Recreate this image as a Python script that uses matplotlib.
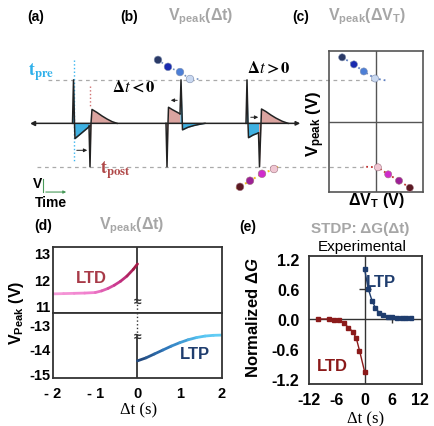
import numpy as np
import matplotlib
matplotlib.use("Agg")
from matplotlib import pyplot as plt
from matplotlib.collections import LineCollection
from matplotlib.colors import LinearSegmentedColormap

plt.rcParams['font.family'] = ['Liberation Sans', 'DejaVu Sans']
plt.rcParams['mathtext.fontset'] = 'custom'
plt.rcParams['mathtext.rm'] = 'Liberation Sans:bold'
plt.rcParams['mathtext.it'] = 'Liberation Sans:bold:italic'
plt.rcParams['mathtext.bf'] = 'Liberation Sans:bold'

# ---- schematic waveforms (a)/(b): time (arb.), voltage (pre peak = 1, post trough = -1)
pre1_t = [72.5, 73.5, 74.5, 75.0, 90.0]
pre1_v = [0.0, 1.0, 0.0, -0.35, -0.06]
post1_t = [89.0, 90.0, 91.0, 92.0, 97.0, 102.0, 107.0, 112.0, 117.0]
post1_v = [-0.06, -1.0, 0.0, 0.32, 0.25, 0.17, 0.10, 0.04, 0.0]

post2_t = [166.0, 167.0, 168.0, 168.5, 172.0, 176.0, 180.0]
post2_v = [0.0, -1.0, 0.0, 0.37, 0.32, 0.27, 0.22]
pre2_t = [180.0, 181.0, 182.5, 188.0, 194.0, 200.0, 205.0]
pre2_v = [0.22, 1.0, -0.15, -0.09, -0.05, -0.02, 0.0]

pre3_t = [246.0, 247.0, 248.0, 248.5, 253.0, 258.5]
pre3_v = [0.0, 1.0, 0.0, -0.33, -0.27, -0.22]
post3_t = [258.5, 259.5, 261.0, 261.5, 266.0, 271.0, 276.0, 282.0, 288.0]
post3_v = [-0.22, -1.0, 0.0, 0.33, 0.27, 0.19, 0.12, 0.05, 0.0]

# V_peak traces shown as beads
b_up_t = [158, 168, 180, 190]
b_up_v = [1.46, 1.30, 1.18, 1.02]
b_dn_t = [240, 250, 262, 274]
b_dn_v = [-1.46, -1.32, -1.16, -1.05]
up_colors = ['#2b3a67', '#1a2bb0', '#4d7fd6', '#c9d8f0']
dn_colors = ['#5c1a22', '#9c2096', '#d02ccc', '#f0c6d2']

# ---- (c) V_peak vs dV_T
c_up_x = [-0.72, -0.47, -0.26, -0.02]
c_up_y = [0.91, 0.81, 0.71, 0.61]
c_dn_x = [0.72, 0.49, 0.26, 0.04]
c_dn_y = [-0.94, -0.84, -0.75, -0.65]

# ---- (d) V_peak(dt)
ltd_dt = [-2.0, -1.75, -1.5, -1.25, -1.0, -0.85, -0.7, -0.55, -0.4, -0.25, -0.1, 0.0]
ltd_vp = [11.45, 11.46, 11.47, 11.48, 11.5, 11.56, 11.65, 11.77, 11.92, 12.11, 12.36, 12.56]
ltp_dt = [0.0, 0.2, 0.4, 0.6, 0.8, 1.0, 1.2, 1.4, 1.6, 1.8, 2.0]
ltp_vp = [-14.5, -14.38, -14.22, -14.06, -13.9, -13.76, -13.64, -13.55, -13.49, -13.46, -13.45]

# ---- (e) experimental STDP
e_ltp_dt = [0, 0.8, 1.6, 2.3, 3.1, 4, 5, 6, 7, 8, 9, 10]
e_ltp_dg = [1.0, 0.6, 0.37, 0.23, 0.13, 0.08, 0.05, 0.04, 0.03, 0.02, 0.02, 0.02]
e_ltd_dt = [-10, -7.6, -6.6, -5.5, -4.5, -3.5, -2.6, -1.8, -1.1, 0]
e_ltd_dg = [0.0, 0.0, -0.01, -0.02, -0.08, -0.17, -0.25, -0.38, -0.63, -1.05]

W, H = 435, 427
fig = plt.figure(figsize=(W / 100, H / 100), dpi=100)


def P(x, y):
    return x / W, 1 - y / H


def box(x0, y0, x1, y1):
    return [x0 / W, 1 - y1 / H, (x1 - x0) / W, (y1 - y0) / H]


gray = '#a6a6a6'
blue_f = '#2aa9df'
pink_f = '#d89a96'
dark = '#222222'
ltd_c = '#a83a48'
ltp_c = '#1f3d6e'

# ---------------- schematic axes
axs = fig.add_axes(box(0, 40, W, 210))
axs.set_xlim(0, W)
axs.set_ylim(-1.97, 1.94)
axs.axis('off')

axs.plot([48, 376], [1.0, 1.0], ls=(0, (3, 3)), color='#aaaaaa', lw=0.9)
axs.plot([37, 363], [-1.0, -1.0], ls=(0, (3, 3)), color='#aaaaaa', lw=0.9)
axs.annotate('', xy=(303, 0), xytext=(33, 0),
             arrowprops=dict(arrowstyle='-|>', color=dark, lw=1.1, mutation_scale=6))
axs.plot(33, 0, marker='<', ms=3, color=dark)

axs.plot([74, 74], [1.45, -0.9], ls=':', color='#3ab6f0', lw=1.0)
axs.plot([90, 90], [0.87, 0.35], ls=':', color='#d07070', lw=1.0)

for t, v, c in [(pre1_t, pre1_v, blue_f), (post1_t, post1_v, pink_f),
                (post2_t, post2_v, pink_f), (pre2_t, pre2_v, blue_f),
                (pre3_t, pre3_v, blue_f), (post3_t, post3_v, pink_f)]:
    axs.fill_between(t, v, 0, color=c, lw=0, alpha=0.9)
    axs.plot(t, v, color=dark, lw=1.1)

axs.annotate('', xy=(90, -0.62), xytext=(74, -0.62),
             arrowprops=dict(arrowstyle='-|>', color=dark, lw=0.7, mutation_scale=5))
axs.annotate('', xy=(168, 0.53), xytext=(180, 0.53),
             arrowprops=dict(arrowstyle='-|>', color=dark, lw=0.7, mutation_scale=5))
axs.annotate('', xy=(261, 0.14), xytext=(248, 0.14),
             arrowprops=dict(arrowstyle='-|>', color=dark, lw=0.7, mutation_scale=5))

axs.plot(b_up_t + [200], b_up_v + [1.02], ls=':', color='#7090c0', lw=1.2, zorder=3)
axs.scatter(b_up_t, b_up_v, s=30, c=up_colors, edgecolors='#7f8fb0', linewidths=0.4, zorder=4)
axs.plot([236] + b_dn_t + [278], [-1.5] + b_dn_v + [-1.0], ls=':', color='#f0c020', lw=1.4, zorder=3)
axs.scatter(b_dn_t, b_dn_v, s=30, c=dn_colors, edgecolors='#a07080', linewidths=0.4, zorder=4)

# green V/Time axes glyph
axs.annotate('', xy=(69, -1.58), xytext=(43, -1.58),
             arrowprops=dict(arrowstyle='-|>', color='#4a9a5a', lw=0.8, mutation_scale=4))
axs.plot([43, 43], [-1.28, -1.58], color='#4a9a5a', lw=0.8)

fig.text(*P(38, 184), 'V', fontsize=10, weight='bold', ha='center', va='center')
fig.text(*P(35, 203), 'Time', fontsize=10, weight='bold', ha='left', va='center')
fig.text(*P(28, 72), r'$\mathbf{t_{pre}}$', fontsize=13, color='#2fb0ea', ha='left',
         va='center', math_fontfamily='stix')
fig.text(*P(100, 170), r'$\mathbf{t_{post}}$', fontsize=13, color='#b04848', ha='left',
         va='center', math_fontfamily='stix')
fig.text(*P(134, 87), r'$\mathbf{\Delta \mathit{t} < 0}$', fontsize=12, ha='center',
         va='center', math_fontfamily='stix')
fig.text(*P(269, 68), r'$\mathbf{\Delta \mathit{t} > 0}$', fontsize=12, ha='center',
         va='center', math_fontfamily='stix')

# panel titles top
fig.text(*P(36, 17), '(a)', fontsize=10, weight='bold', ha='center', va='center')
fig.text(*P(129, 17), '(b)', fontsize=10, weight='bold', ha='center', va='center')
fig.text(*P(201, 17), r'$\mathrm{V_{peak}}$(Δt)', fontsize=11.5, weight='bold', color=gray,
         ha='center', va='center')
fig.text(*P(301, 17), '(c)', fontsize=10, weight='bold', ha='center', va='center')
fig.text(*P(367, 17), r'$\mathrm{V_{peak}}$(Δ$\mathrm{V_T}$)', fontsize=11.5, weight='bold',
         color=gray, ha='center', va='center')

# ---------------- (c)
axc = fig.add_axes(box(329, 52, 423, 193))
axc.set_facecolor('none')
axc.set_xlim(-1, 1)
axc.set_ylim(-1, 1)
axc.set_xticks([])
axc.set_yticks([])
for s in axc.spines.values():
    s.set_color('#555555')
    s.set_linewidth(1.2)
axc.axvline(0, color='#555555', lw=1.0)
axc.axhline(0, color='#555555', lw=1.0)
axc.plot(c_up_x + [0.23], c_up_y + [0.58], ls=':', color='#6080c0', lw=1.3, zorder=3)
axc.scatter(c_up_x, c_up_y, s=26, c=up_colors, edgecolors='#7f8fb0', linewidths=0.4, zorder=4)
axc.plot(c_dn_x + [-0.28], c_dn_y + [-0.64], ls=':', color='#c03030', lw=1.3, zorder=3)
axc.scatter(c_dn_x, c_dn_y, s=26, c=dn_colors, edgecolors='#a07080', linewidths=0.4, zorder=4)
fig.text(*P(316, 124), r'$\mathrm{V_{peak}}$ (V)', fontsize=12, weight='bold', rotation=90,
         ha='center', va='center')
fig.text(*P(376, 201), r'Δ$\mathrm{V_T}$ (V)', fontsize=11.5, weight='bold',
         ha='center', va='center')

# ---------------- (d)
fig.text(*P(43, 226), '(d)', fontsize=10, weight='bold', ha='center', va='center')
fig.text(*P(132, 226), r'$\mathrm{V_{peak}}$(Δt)', fontsize=11.5, weight='bold', color=gray,
         ha='center', va='center')

axd1 = fig.add_axes(box(53, 248, 222, 314))
axd2 = fig.add_axes(box(53, 314, 222, 379))
axd1.set_ylim(10.74, 13.19)
axd2.set_ylim(-15.2, -12.55)
for ax in (axd1, axd2):
    ax.set_xlim(-2, 2)
    for s in ax.spines.values():
        s.set_color('#333333')
        s.set_linewidth(1.3)
    ax.tick_params(length=0, labelsize=10.5, pad=2)
axd1.set_yticks([11, 12, 13])
axd1.set_yticklabels(['11', '12', '13'], fontweight='bold')
axd1.set_xticks([])
axd2.set_yticks([-13, -14, -15])
axd2.set_yticklabels(['-13', '-14', '-15'], fontweight='bold')
axd2.set_xticks([-2, -1, 0, 1, 2])
axd2.set_xticklabels(['- 2', '- 1', '0', '1', '2'], fontweight='bold')
axd2.tick_params(axis='x', pad=6)

axd1.plot([0, 0], [11.2, 13.19], color='#333333', lw=1.3)
axd1.plot([0, 0], [10.74, 11.2], color='#333333', lw=1.0, ls=':')
axd2.plot([0, 0], [-13.5, -12.55], color='#333333', lw=1.0, ls=':')
axd2.plot([0, 0], [-15.2, -13.5], color='#333333', lw=1.3)
axd1.text(0, 11.2, '≈', fontsize=10, weight='bold', ha='center', va='center', color='#333333')
axd2.text(0, -13.5, '≈', fontsize=10, weight='bold', ha='center', va='center', color='#333333')

cm_ltd = LinearSegmentedColormap.from_list('ltd', [(0, '#f59ad8'), (0.45, '#f07ccc'),
                                                   (0.75, '#c8348a'), (1, '#9a1538')])
cm_ltp = LinearSegmentedColormap.from_list('ltp', [(0, '#1e3a6c'), (0.4, '#2f78bb'),
                                                   (0.8, '#55c2f0'), (1, '#62cdf5')])
pts = np.column_stack([ltd_dt, ltd_vp])
seg = np.stack([pts[:-1], pts[1:]], axis=1)
lc = LineCollection(seg, cmap=cm_ltd, lw=2.0, capstyle='round')
lc.set_array((np.array(ltd_dt[:-1]) + 2) / 2)
lc.set_clim(0, 1)
axd1.add_collection(lc)
pts = np.column_stack([ltp_dt, ltp_vp])
seg = np.stack([pts[:-1], pts[1:]], axis=1)
lc = LineCollection(seg, cmap=cm_ltp, lw=2.0, capstyle='round')
lc.set_array(np.array(ltp_dt[1:]) / 2)
lc.set_clim(0, 1)
axd2.add_collection(lc)

axd1.text(-1.1, 12.04, 'LTD', fontsize=12, weight='bold', color=ltd_c, ha='center', va='center')
axd2.text(1.36, -14.22, 'LTP', fontsize=12, weight='bold', color=ltp_c, ha='center', va='center')
fig.text(*P(17, 313), r'$\mathrm{V_{Peak}}$ (V)', fontsize=11.5, weight='bold', rotation=90,
         ha='center', va='center')
fig.text(*P(139, 410), 'Δt (s)', fontsize=12, family='Liberation Serif', ha='center',
         va='center')

# ---------------- (e)
fig.text(*P(248, 227), '(e)', fontsize=10, weight='bold', ha='center', va='center')
fig.text(*P(360, 229), 'STDP: ΔG(Δt)', fontsize=11, weight='bold', color=gray,
         ha='center', va='center')
fig.text(*P(362, 247), 'Experimental', fontsize=11, ha='center', va='center')

axe = fig.add_axes(box(309, 257, 422, 385))
axe.set_xlim(-12, 12.4)
axe.set_ylim(-1.3, 1.26)
for s in axe.spines.values():
    s.set_color('#333333')
    s.set_linewidth(1.3)
axe.axhline(0, color='#333333', lw=1.0)
axe.axvline(0, color='#333333', lw=1.0)
axe.plot(0, 0.6, marker='_', ms=8, color='#333333', mew=1.0)
axe.plot(6, 0, marker='|', ms=6, color='#333333', mew=1.0)
axe.plot(e_ltp_dt, e_ltp_dg, color=ltp_c, lw=1.0, marker='s', ms=3.5)
axe.plot(e_ltd_dt, e_ltd_dg, color='#8b1a1a', lw=1.0, marker='s', ms=3.5)
axe.set_xticks([-12, -6, 0, 6, 12])
axe.set_yticks([1.2, 0.6, 0.0, -0.6, -1.2])
axe.set_yticklabels(['1.2', '0.6', '0.0', '-0.6', '-1.2'], fontweight='bold')
axe.set_xticklabels(['-12', '-6', '0', '6', '12'], fontweight='bold')
axe.tick_params(length=0, labelsize=11.5)
axe.tick_params(axis='y', pad=7)
axe.tick_params(axis='x', pad=6)
axe.text(3.5, 0.75, 'LTP', fontsize=12, weight='bold', color=ltp_c, ha='center', va='center')
axe.text(-7.0, -0.93, 'LTD', fontsize=12, weight='bold', color='#8b1a1a', ha='center', va='center')
fig.text(*P(253, 318), r'Normalized $\Delta G$', fontsize=12, weight='bold', rotation=90,
         ha='center', va='center')
fig.text(*P(366, 419), 'Δt (s)', fontsize=12, family='Liberation Serif', ha='center',
         va='center')

fig.savefig('out.png', dpi=100)
